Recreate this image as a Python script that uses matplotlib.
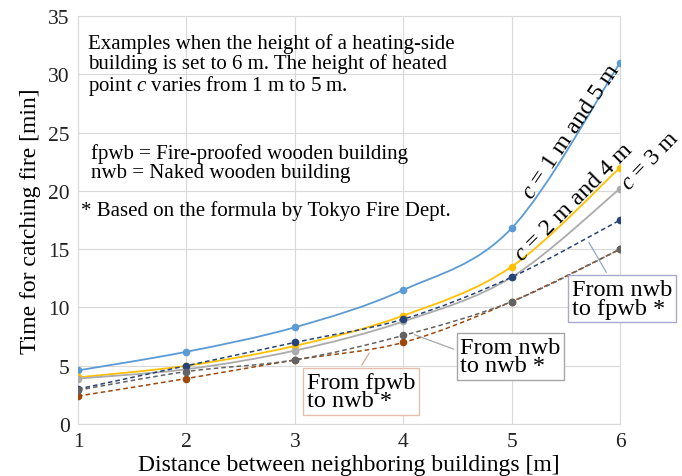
import numpy as np
import matplotlib
matplotlib.use("Agg")
import matplotlib.pyplot as plt
from matplotlib.path import Path
from matplotlib.patches import PathPatch

plt.rcParams['font.family'] = ['Liberation Serif', 'DejaVu Serif']
plt.rcParams['mathtext.fontset'] = 'custom'
plt.rcParams['mathtext.rm'] = 'Liberation Serif'
plt.rcParams['mathtext.it'] = 'Liberation Serif:italic'

# distance between buildings [m]
dist = [1, 2, 3, 4, 5, 6]

# solid series: heated point c
c15 = [4.6, 6.2, 8.3, 11.5, 16.8, 31.0]
c24 = [4.0, 5.0, 6.7, 9.3, 13.5, 22.0]
c3 = [3.9, 4.7, 6.3, 8.8, 12.6, 20.2]

# dashed series: formula by Tokyo Fire Dept.
nwb_fpwb = [3.0, 5.0, 7.0, 9.0, 12.6, 17.5]
fpwb_nwb = [2.4, 3.9, 5.5, 7.0, 10.5, 15.0]
nwb_nwb = [2.9, 4.5, 5.5, 7.6, 10.5, 15.0]

BLUE = '#5B9BD5'
ORANGE = '#FFC000'
GRAY = '#ABABAB'
DBLUE = '#264478'
BROWN = '#9E480E'
DGRAY = '#636363'


def smooth(ax, x, y, color, ls='-', lw=1.3):
    # excel-like smoothed line: bezier through the points
    x = np.asarray(x, float)
    y = np.asarray(y, float)
    px = np.concatenate([[x[0]], x, [x[-1]]])
    py = np.concatenate([[y[0]], y, [y[-1]]])
    verts = [(x[0], y[0])]
    codes = [Path.MOVETO]
    for i in range(1, len(x)):
        p0 = np.array([px[i - 1], py[i - 1]])
        p1 = np.array([px[i], py[i]])
        p2 = np.array([px[i + 1], py[i + 1]])
        p3 = np.array([px[i + 2], py[i + 2]])
        c1 = p1 + (p2 - p0) / 6
        c2 = p2 - (p3 - p1) / 6
        verts += [tuple(c1), tuple(c2), tuple(p2)]
        codes += [Path.CURVE4] * 3
    patch = PathPatch(Path(verts, codes), facecolor='none', edgecolor=color,
                      lw=lw, zorder=3)
    if ls != '-':
        patch.set_linestyle((0, (3, 2)))
    ax.add_patch(patch)
    ax.plot(x, y, 'o', color=color, markersize=4.5, zorder=4)


fig = plt.figure(figsize=(6.82, 4.77), dpi=100)
ax = fig.add_axes([0.1144, 0.109, 0.7947, 0.855])

smooth(ax, dist, c15, BLUE)
smooth(ax, dist, c24, ORANGE)
smooth(ax, dist, c3, GRAY)
smooth(ax, dist, nwb_fpwb, DBLUE, ls='--', lw=1.1)
smooth(ax, dist, fpwb_nwb, BROWN, ls='--', lw=1.1)
smooth(ax, dist, nwb_nwb, DGRAY, ls='--', lw=1.1)

ax.set_xlim(1, 6)
ax.set_ylim(0, 35)
ax.set_xticks(dist)
ax.set_yticks(range(0, 36, 5))
ax.grid(True, color='#D9D9D9', lw=0.8)
ax.set_axisbelow(True)
for s in ax.spines.values():
    s.set_color('#D9D9D9')
    s.set_linewidth(0.8)
ax.tick_params(length=0, labelsize=15.5, pad=6, colors='#222222')
ax.set_xlabel('Distance between neighboring buildings [m]', fontsize=17, labelpad=2)
ax.set_ylabel('Time for catching fire [min]', fontsize=17, labelpad=5)

# notes
ax.text(0.018, 0.958, 'Examples when the height of a heating-side\n'
        'building is set to 6 m. The height of heated\n'
        'point $c$ varies from 1 m to 5 m.',
        transform=ax.transAxes, fontsize=15, va='top', ha='left', linespacing=1.0)
ax.text(0.024, 0.69, 'fpwb = Fire-proofed wooden building\nnwb = Naked wooden building',
        transform=ax.transAxes, fontsize=15, va='top', ha='left', linespacing=1.0)
ax.text(0.006, 0.55, '* Based on the formula by Tokyo Fire Dept.',
        transform=ax.transAxes, fontsize=15, va='top', ha='left')

# curve labels
ax.text(5.55, 25.2, '$c$ = 1 m and 5 m', fontsize=17.5, rotation=56,
        ha='center', va='center', rotation_mode='anchor')
ax.text(5.58, 19.1, '$c$ = 2 m and 4 m', fontsize=17.5, rotation=45,
        ha='center', va='center', rotation_mode='anchor')
ax.text(6.28, 22.6, '$c$ = 3 m', fontsize=17, rotation=46,
        ha='center', va='center', rotation_mode='anchor', clip_on=False)

# boxed callouts
ax.annotate('From nwb\nto fpwb *', xy=(5.70, 15.8), xytext=(6.02, 10.75),
            fontsize=17.5, ha='center', va='center', multialignment='left',
            linespacing=0.85, annotation_clip=False,
            bbox=dict(boxstyle='square,pad=0.15', fc='white', ec='#A9A9CF', lw=1),
            arrowprops=dict(arrowstyle='-', color='#8EA9C8', lw=0.9, relpos=(0.38, 1.0)))
ax.annotate('From nwb\nto nwb *', xy=(4.08, 7.75), xytext=(4.99, 5.8),
            fontsize=17.5, ha='center', va='center', multialignment='left',
            linespacing=0.85, annotation_clip=False,
            bbox=dict(boxstyle='square,pad=0.15', fc='white', ec='#A6A6A6', lw=1),
            arrowprops=dict(arrowstyle='-', color='#A6A6A6', lw=0.9, relpos=(0.0, 0.62)))
ax.annotate('From fpwb\nto nwb *', xy=(3.70, 6.3), xytext=(3.61, 2.8),
            fontsize=17.5, ha='center', va='center', multialignment='left',
            linespacing=0.85, annotation_clip=False,
            bbox=dict(boxstyle='square,pad=0.15', fc='white', ec='#E3BFA9', lw=1),
            arrowprops=dict(arrowstyle='-', color='#D9A88C', lw=0.9, relpos=(0.47, 1.0)))

fig.savefig('out.png', dpi=100)
